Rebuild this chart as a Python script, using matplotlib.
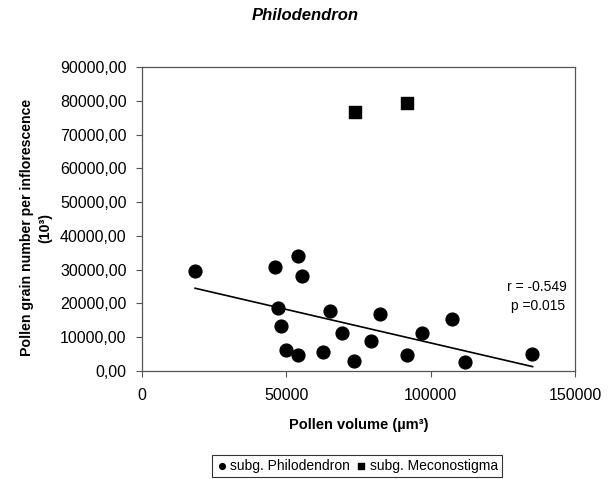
import matplotlib
matplotlib.use('Agg')
import matplotlib.pyplot as plt
from matplotlib.ticker import FuncFormatter

plt.rcParams['font.family'] = ['Liberation Sans', 'DejaVu Sans']

# subg. Philodendron (circles)
philo_vol = [18400, 46200, 54200, 55600, 47000, 48000, 49800, 53900, 62700,
             65300, 69400, 73600, 79300, 82300, 91800, 97100, 107400, 112000, 135000]
philo_num = [29700, 30800, 34100, 28000, 18550, 13200, 6300, 4700, 5500,
             17900, 11300, 2900, 9000, 17000, 4800, 11300, 15300, 2700, 4900]

# subg. Meconostigma (squares)
mecono_vol = [73800, 91700]
mecono_num = [76600, 79200]

# regression line (endpoints)
trend_x = [18400, 135300]
trend_y = [24500, 1300]

x_ticks = [0, 50000, 100000, 150000]
y_ticks = list(range(0, 90001, 10000))

fig = plt.figure(figsize=(6.13, 4.79), dpi=100)
ax = fig.add_axes([142 / 613, 1 - 371 / 479, (575 - 142) / 613, (371 - 67) / 479])

ax.scatter(philo_vol, philo_num, s=85, marker='o', color='black',
           label='subg. Philodendron', zorder=3)
ax.scatter(mecono_vol, mecono_num, s=85, marker='s', color='black',
           label='subg. Meconostigma', zorder=3)
ax.plot(trend_x, trend_y, color='black', lw=1.2, zorder=2)

ax.set_xlim(0, 150000)
ax.set_ylim(0, 90000)
ax.set_xticks(x_ticks)
ax.set_yticks(y_ticks)
ax.yaxis.set_major_formatter(FuncFormatter(lambda v, p: f'{v:.2f}'.replace('.', ',')))
ax.xaxis.set_major_formatter(FuncFormatter(lambda v, p: f'{int(v)}'))
ax.tick_params(direction='out', length=4, width=0.8, labelsize=11.5, color='#555555')
ax.tick_params(axis='y', pad=7)
ax.tick_params(axis='x', pad=8)
for sp in ax.spines.values():
    sp.set_color('#555555')
    sp.set_linewidth(0.9)

ax.text(0.912, 0.262, 'r = -0.549', transform=ax.transAxes, ha='center', fontsize=10)
ax.text(0.915, 0.200, 'p =0.015', transform=ax.transAxes, ha='center', fontsize=10)

ax.set_xlabel('Pollen volume (µm³)', fontsize=10.5, fontweight='bold', labelpad=11)
ax.set_ylabel('Pollen grain number per inflorescence\n(10³)', fontsize=10.2,
              fontweight='bold', linespacing=1.4)
ax.yaxis.set_label_coords(-0.207, 0.472)

fig.text(305 / 613, 1 - 15 / 479, 'Philodendron', ha='center', va='center',
         fontsize=12, fontweight='bold', fontstyle='italic')

leg = fig.legend(loc='center', bbox_to_anchor=(357 / 613, 1 - 466 / 479), ncol=2,
                 fontsize=10, frameon=True, fancybox=False, handletextpad=0.2,
                 columnspacing=0.4, borderpad=0.3, markerscale=0.45,
                 handlelength=0.8)
leg.get_frame().set_edgecolor('black')
leg.get_frame().set_linewidth(0.8)

fig.savefig('out.png', dpi=100)
